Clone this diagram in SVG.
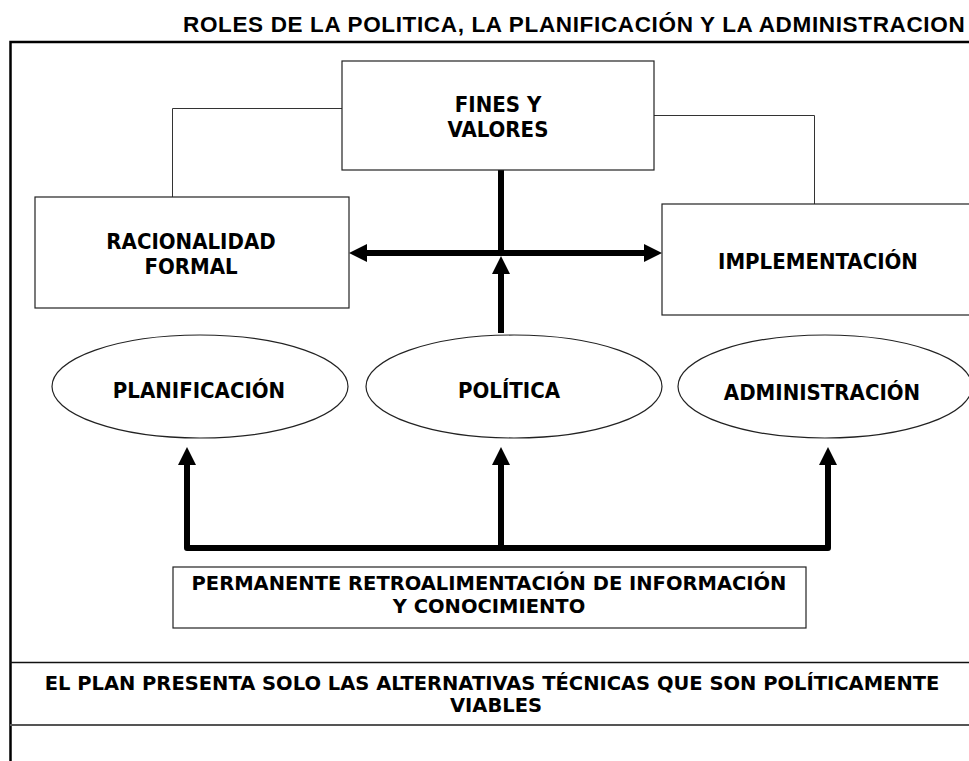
<svg xmlns="http://www.w3.org/2000/svg" width="969" height="761" viewBox="0 0 969 761">
<style>
.box{fill:#fff;stroke:#222;stroke-width:1.2}
.lbl{font-family:"DejaVu Sans Condensed","DejaVu Sans",sans-serif;font-stretch:condensed;font-weight:bold;font-size:22px;fill:#000;text-anchor:middle}
.note{font-family:"DejaVu Sans","Liberation Sans",sans-serif;font-weight:bold;font-size:19.5px;fill:#000;text-anchor:middle}
.title{font-family:"Liberation Sans",Arial,sans-serif;font-weight:bold;font-size:22.5px;letter-spacing:0.65px;fill:#000}
.thin{fill:none;stroke:#333;stroke-width:1}
.thick{fill:none;stroke:#000;stroke-width:6;stroke-linejoin:round}
.frame{fill:none;stroke:#000;stroke-width:2.5}
</style>
<defs>
<marker id="ah" viewBox="0 0 18 18" refX="8" refY="9" markerWidth="18" markerHeight="18" markerUnits="userSpaceOnUse" orient="auto-start-reverse">
<path d="M0,0 L18,9 L0,18 Z" fill="#000"/>
</marker>
</defs>
<rect width="969" height="761" fill="#fff"/>
<g id="title">
<text class="title" x="183" y="32">ROLES DE LA POLITICA, LA PLANIFICACIÓN Y LA ADMINISTRACION</text>
</g>
<g id="frame">
<path class="frame" d="M10.5,761 V42 H969"/>
</g>
<g id="connectors">
<path class="thin" d="M342,108.5 H172.5 V197"/>
<path class="thin" d="M654,115.5 H814.5 V204"/>
<line class="thick" x1="359" y1="253" x2="652" y2="253" marker-start="url(#ah)" marker-end="url(#ah)"/>
<line class="thick" x1="501" y1="170" x2="501" y2="253"/>
<line class="thick" x1="501" y1="333" x2="501" y2="266" marker-end="url(#ah)"/>
<path class="thick" d="M187,457 V548 H828 V457" marker-start="url(#ah)" marker-end="url(#ah)"/>
<line class="thick" x1="501" y1="548" x2="501" y2="457" marker-end="url(#ah)"/>
</g>
<g id="fines">
<rect class="box" x="342" y="61" width="312" height="109"/>
<text class="lbl" x="498" y="112">FINES Y</text>
<text class="lbl" x="498" y="137">VALORES</text>
</g>
<g id="racionalidad">
<rect class="box" x="35" y="197" width="314" height="111"/>
<text class="lbl" x="191" y="249">RACIONALIDAD</text>
<text class="lbl" x="191" y="274">FORMAL</text>
</g>
<g id="implementacion">
<rect class="box" x="662" y="204" width="312" height="111"/>
<text class="lbl" x="818" y="269">IMPLEMENTACIÓN</text>
</g>
<g id="planificacion">
<ellipse class="box" cx="200" cy="386.5" rx="148" ry="51.5"/>
<text class="lbl" x="199" y="398">PLANIFICACIÓN</text>
</g>
<g id="politica">
<ellipse class="box" cx="514" cy="386.5" rx="148" ry="51.5"/>
<text class="lbl" x="509" y="398">POLÍTICA</text>
</g>
<g id="administracion">
<ellipse class="box" cx="825" cy="386.5" rx="147" ry="51.5"/>
<text class="lbl" x="822" y="400">ADMINISTRACIÓN</text>
</g>
<g id="retroalimentacion">
<rect class="box" x="173" y="567" width="633" height="61"/>
<text class="note" x="489" y="590">PERMANENTE RETROALIMENTACIÓN DE INFORMACIÓN</text>
<text class="note" x="489" y="613">Y CONOCIMIENTO</text>
</g>
<g id="plan">
<line x1="10" y1="662.5" x2="969" y2="662.5" stroke="#111" stroke-width="1.5"/>
<line x1="10" y1="725" x2="969" y2="725" stroke="#555" stroke-width="2"/>
<text class="note" x="492" y="690">EL PLAN PRESENTA SOLO LAS ALTERNATIVAS TÉCNICAS QUE SON POLÍTICAMENTE</text>
<text class="note" x="496" y="712">VIABLES</text>
</g>
</svg>
